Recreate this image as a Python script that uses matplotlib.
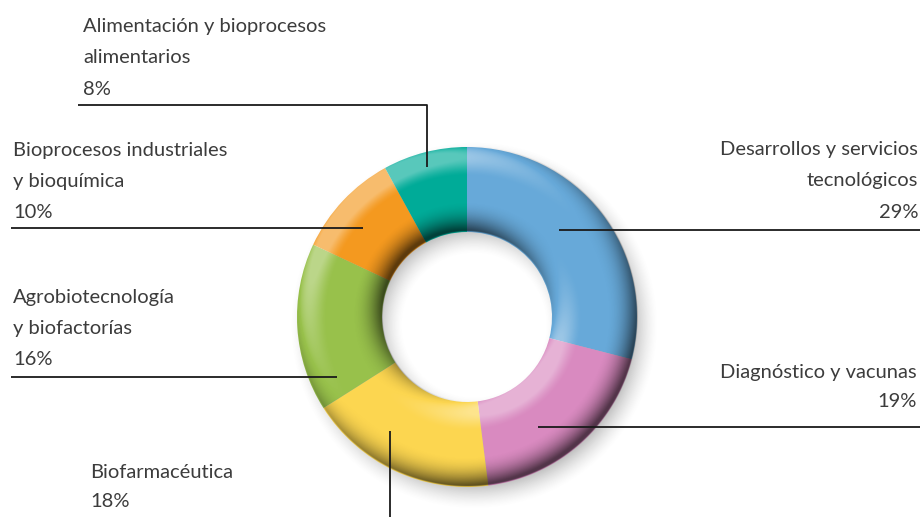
import numpy as np
import matplotlib
matplotlib.use("Agg")
import matplotlib.pyplot as plt

# === Data ===
sectors = [
    "Desarrollos y servicios\ntecnológicos",
    "Diagnóstico y vacunas",
    "Biofarmacéutica",
    "Agrobiotecnología\ny biofactorías",
    "Bioprocesos industriales\ny bioquímica",
    "Alimentación y bioprocesos\nalimentarios",
]
shares = [29, 19, 18, 16, 10, 8]
colors = ["#67a9d9", "#d98ac0", "#fcd650", "#98c14b", "#f4991f", "#00ab98"]

# === Layout (pixel coords, y measured from top) ===
W, H = 922, 517
cx, cy = 467, 317
R_out, R_in = 170, 85

# text anchor x, alignment, baseline of each text line
label_pos = [
    (918, "right", [155, 186, 218]),
    (917, "right", [378, 407]),
    (90, "left", [478, 507]),
    (13, "left", [303, 334, 365]),
    (13, "left", [156, 187, 218]),
    (83, "left", [32, 63, 95]),
]
leaders = [
    [(559, 230), (920, 230)],
    [(538, 427), (920, 427)],
    [(390, 431), (390, 517)],
    [(337, 377), (11, 377)],
    [(363, 228), (11, 228)],
    [(427, 167), (427, 105), (78, 105)],
]


def Y(y):
    return H - y


fig = plt.figure(figsize=(W / 100, H / 100), dpi=100)
ax = fig.add_axes([0, 0, 1, 1])

# === soft drop shadow and tube shading ===
ext = 30
xs = np.arange(cx - R_out - ext, cx + R_out + ext, 0.5)
ys = np.arange(cy - R_out - ext, cy + R_out + ext, 0.5)
X, Yp = np.meshgrid(xs, ys)
extent = (xs[0], xs[-1], Y(ys[-1]), Y(ys[0]))

# shadow: ring shifted to lower right, blurred edges
rs = np.hypot(X - (cx + 7), Yp - (cy + 9))
soft = 14.0
sh = np.clip((rs - R_in + soft) / (2 * soft), 0, 1) * np.clip((R_out - rs + soft) / (2 * soft), 0, 1)
sh = sh ** 1.5 * 0.45
shadow = np.zeros(X.shape + (4,))
shadow[..., :3] = 0.35
shadow[..., 3] = sh
ax.imshow(shadow, extent=extent, origin="upper", zorder=0, interpolation="bilinear")

ax.pie(shares, colors=colors, startangle=90, counterclock=False,
       radius=R_out, center=(cx, Y(cy)),
       wedgeprops=dict(width=R_out - R_in, linewidth=0))
for p in ax.patches:
    p.set_zorder(1)

dx = X - cx
dy = cy - Yp
r = np.hypot(dx, dy)
phi = np.arctan2(dy, dx)
rc = (R_out + R_in) / 2
w = (R_out - R_in) / 2
t = (r - rc) / w
s = np.clip((np.abs(t) - 0.3) / 0.7, 0, 1)
theta = s ** 1.6 * np.radians(78)
sg = np.sign(t)
nx = np.sin(theta) * sg * np.cos(phi)
ny = np.sin(theta) * sg * np.sin(phi)
nz = np.cos(theta)
L = np.array([-0.45, 0.55, 0.7])
L = L / np.linalg.norm(L)
d = nx * L[0] + ny * L[1] + nz * L[2] - L[2]
inside = np.clip(R_out - r + 0.5, 0, 1) * np.clip(r - R_in + 0.5, 0, 1)
shade = np.zeros(X.shape + (4,))
light = d > 0
shade[light, :3] = 1.0
shade[..., 3] = np.where(light, np.clip(d * 1.8, 0, 0.35), np.clip(-d * 0.6, 0, 0.62)) * inside
ax.imshow(shade, extent=extent, origin="upper", zorder=2, interpolation="bilinear")

# === leader lines and labels ===
for pts in leaders:
    ax.plot([p[0] for p in pts], [Y(p[1]) for p in pts], color="#1a1a1a", lw=1.3,
            zorder=3, solid_capstyle="butt")

for name, val, (x, ha, bases) in zip(sectors, shares, label_pos):
    lines = name.split("\n") + [f"{val}%"]
    for line, b in zip(lines, bases):
        ax.text(x, Y(b), line, ha=ha, va="baseline", fontsize=14.5,
                family=["Lato", "DejaVu Sans"], fontweight="normal", color="#3c3c3c", zorder=4)

ax.set_aspect("equal")
ax.set_xlim(0, W)
ax.set_ylim(0, H)
ax.axis("off")

fig.savefig("out.png", dpi=100)
